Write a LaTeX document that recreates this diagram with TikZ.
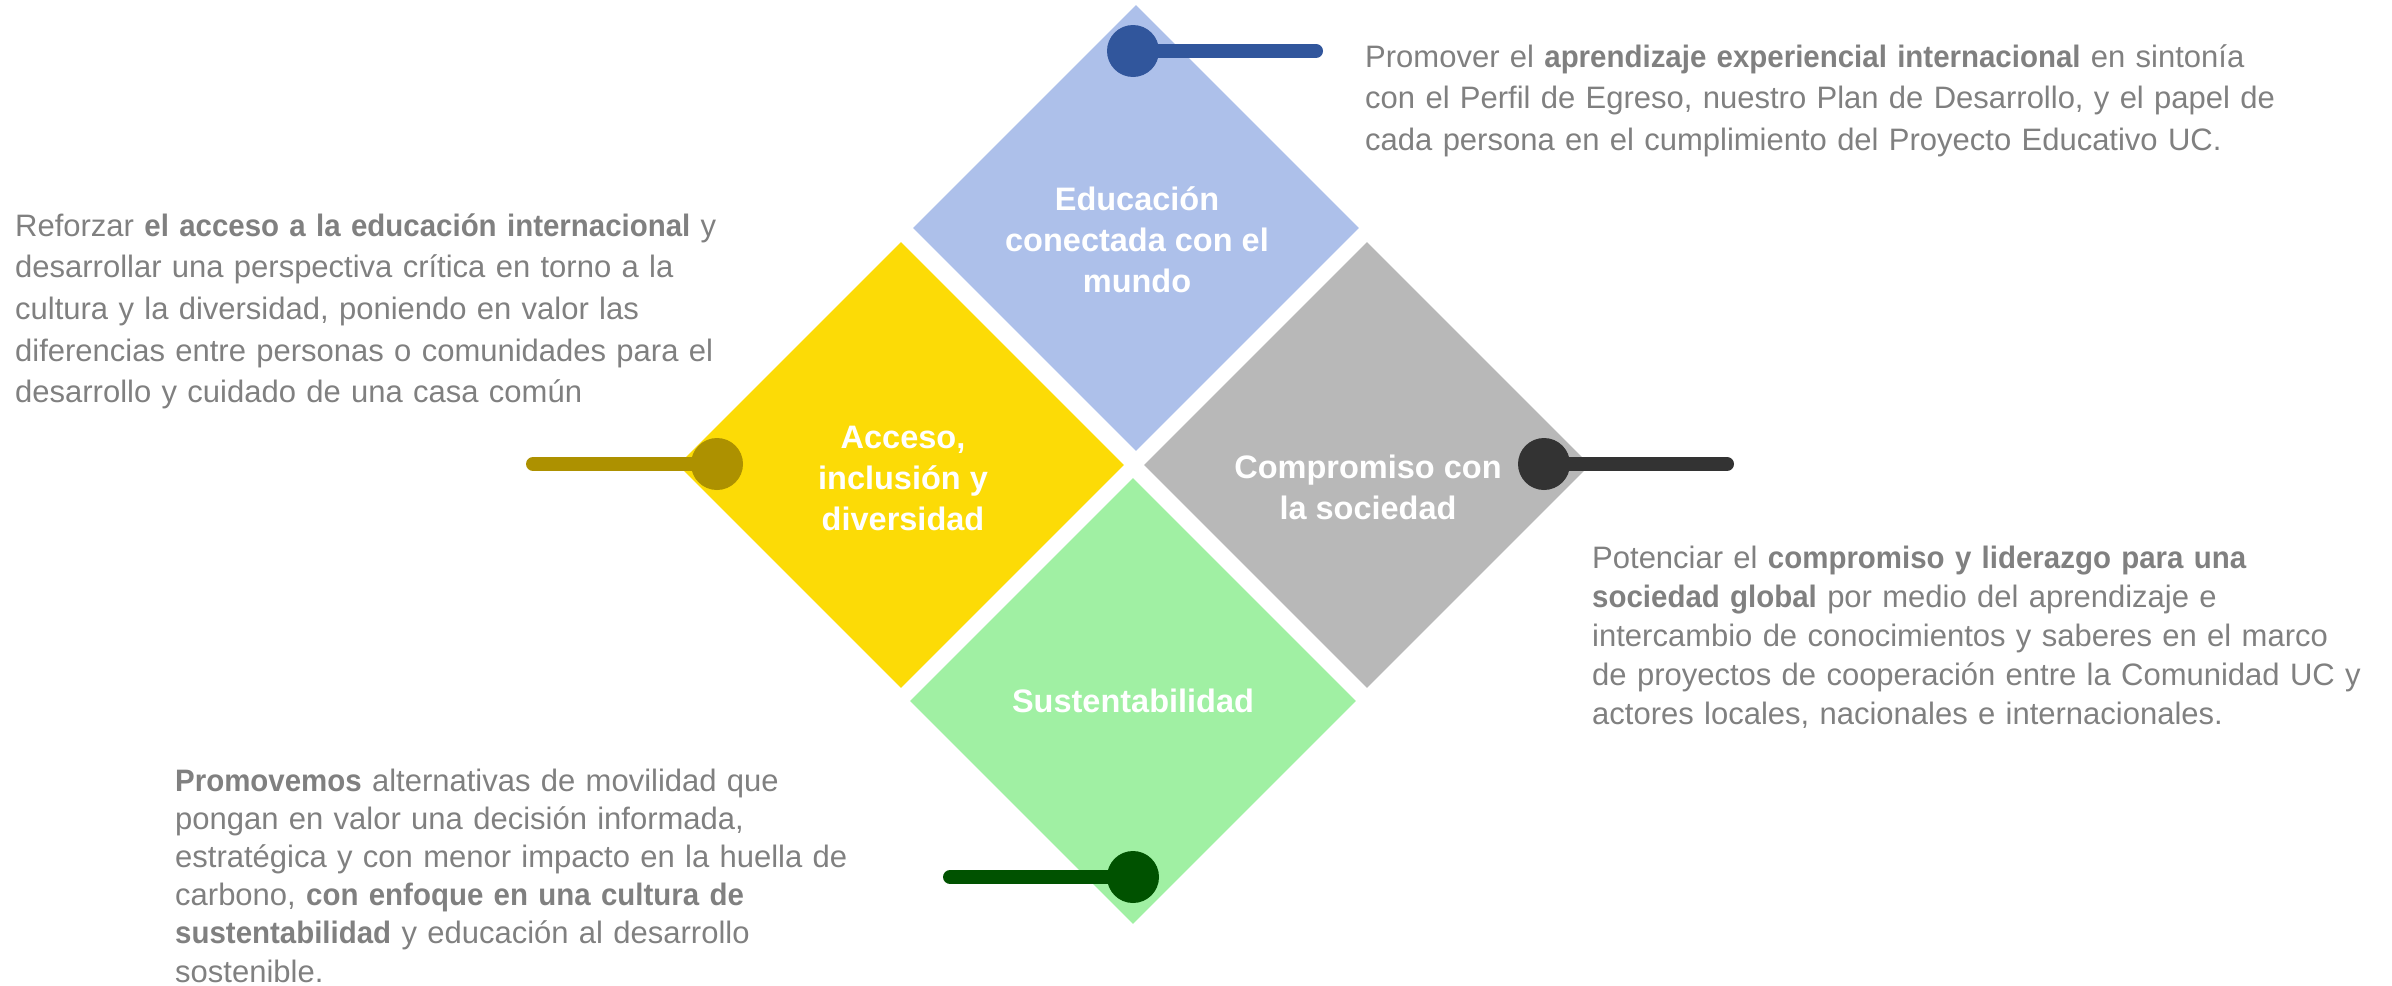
\documentclass[tikz,border=0pt]{standalone}
\usepackage{fontspec}
\setmainfont{Liberation Sans}
\newfontfamily\descfont{Liberation Sans}[BoldFeatures={FakeStretch=0.95}]
\usepackage{tikz}
\usetikzlibrary{shapes.geometric}
\definecolor{eduFill}{HTML}{ADC0EA}
\definecolor{eduDark}{HTML}{31569C}
\definecolor{accFill}{HTML}{FCDB06}
\definecolor{accDark}{HTML}{AD9100}
\definecolor{comFill}{HTML}{B8B8B8}
\definecolor{comDark}{HTML}{333333}
\definecolor{susFill}{HTML}{A0F0A3}
\definecolor{susDark}{HTML}{005200}
\definecolor{txtGray}{HTML}{808080}
\tikzset{
    tile/.style = {diamond, draw=none, aspect=1, inner sep=0pt, minimum width=446pt, minimum height=446pt},
    tile_text/.style = {align=center, inner sep=0pt, text=white, font=\fontsize{32.5}{41}\selectfont\bfseries},
    dot/.style = {circle, inner sep=0pt, minimum size=52pt},
    stem/.style = {line width=14pt, line cap=round},
    desc/.style = {align=left, text width=1000pt, anchor=base west, inner sep=0pt, text=txtGray, font=\descfont\fontsize{31}{41.7}\selectfont}
}

\begin{document}
\begin{tikzpicture}[x=1pt, y=-1pt]
    \path[use as bounding box] (0,0) rectangle (2392,985);

    \node [tile, fill=eduFill] (edu) at (1136,228) {};
    \node [tile, fill=accFill] (acc) at (901,465) {};
    \node [tile, fill=comFill] (com) at (1367,465) {};
    \node [tile, fill=susFill] (sus) at (1133,701) {};

    \node [tile_text] (edu_text) at (1137,240) {Educación\\conectada con el\\mundo};
    \node [tile_text] (acc_text) at (903,478) {Acceso,\\inclusión y\\diversidad};
    \node [tile_text] (com_text) at (1368,487) {Compromiso con\\la sociedad};
    \node [tile_text] (sus_text) at (1133,701) {Sustentabilidad};

    \node [dot, fill=eduDark] (edu_dot) at (1133,51) {};
    \node [dot, fill=accDark] (acc_dot) at (717,464) {};
    \node [dot, fill=comDark] (com_dot) at (1544,464) {};
    \node [dot, fill=susDark] (sus_dot) at (1133,877) {};
    \coordinate (edu_end) at (1316,51);
    \coordinate (acc_end) at (533,464);
    \coordinate (com_end) at (1727,464);
    \coordinate (sus_end) at (950,877);
    \draw [stem, eduDark] (edu_dot) -- (edu_end);
    \draw [stem, accDark] (acc_dot) -- (acc_end);
    \draw [stem, comDark] (com_dot) -- (com_end);
    \draw [stem, susDark] (sus_dot) -- (sus_end);

    \node [desc] (edu_desc) at (1365,67) {Promover el \textbf{aprendizaje experiencial internacional} en sintonía\\
        con el Perfil de Egreso, nuestro Plan de Desarrollo, y el papel de\\
        cada persona en el cumplimiento del Proyecto Educativo UC.};
    \node [desc] (acc_desc) at (15,236) {Reforzar \textbf{el acceso a la educación internacional} y\\
        desarrollar una perspectiva crítica en torno a la\\
        cultura y la diversidad, poniendo en valor las\\
        diferencias entre personas o comunidades para el\\
        desarrollo y cuidado de una casa común};
    \node [desc, font=\descfont\fontsize{31}{39}\selectfont] (com_desc) at (1592,568) {Potenciar el \textbf{compromiso y liderazgo para una}\\
        \textbf{sociedad global} por medio del aprendizaje e\\
        intercambio de conocimientos y saberes en el marco\\
        de proyectos de cooperación entre la Comunidad UC y\\
        actores locales, nacionales e internacionales.};
    \node [desc, font=\descfont\fontsize{31}{38.2}\selectfont] (sus_desc) at (175,791) {\textbf{Promovemos} alternativas de movilidad que\\
        pongan en valor una decisión informada,\\
        estratégica y con menor impacto en la huella de\\
        carbono, \textbf{con enfoque en una cultura de}\\
        \textbf{sustentabilidad} y educación al desarrollo\\
        sostenible.};
\end{tikzpicture}
\end{document}
